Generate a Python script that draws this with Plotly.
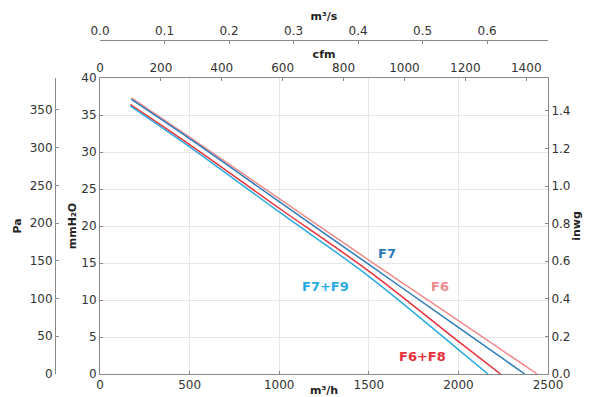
import plotly.graph_objects as go

# airflow (m3/h) vs static pressure (mmH2O)
f6_q = [175, 500, 1000, 1500, 2000, 2440]
f6_p = [37.3, 32.0, 23.7, 15.4, 7.2, 0]
f7_q = [175, 500, 1000, 1500, 2000, 2370]
f7_p = [37.1, 31.8, 23.3, 14.8, 6.3, 0]
f6f8_q = [170, 500, 1000, 1500, 2000, 2235]
f6f8_p = [36.4, 31.0, 22.4, 13.9, 4.4, 0]
f7f9_q = [170, 500, 1000, 1500, 2000, 2165]
f7f9_p = [36.2, 30.7, 21.9, 13.2, 3.3, 0]

C_F6 = '#f08a8a'
C_F7 = '#2b7bba'
C_F6F8 = '#e8303a'
C_F7F9 = '#29abe2'

Q_MAX = 2500
P_MAX = 40

fig = go.Figure()
fig.add_trace(go.Scatter(x=f6_q, y=f6_p, mode='lines', name='F6', line=dict(color=C_F6, width=1.5, shape='spline')))
fig.add_trace(go.Scatter(x=f7_q, y=f7_p, mode='lines', name='F7', line=dict(color=C_F7, width=1.5, shape='spline')))
fig.add_trace(go.Scatter(x=f6f8_q, y=f6f8_p, mode='lines', name='F6+F8', line=dict(color=C_F6F8, width=1.5, shape='spline')))
fig.add_trace(go.Scatter(x=f7f9_q, y=f7f9_p, mode='lines', name='F7+F9', line=dict(color=C_F7F9, width=1.5, shape='spline')))

# dummy traces so the extra axes get drawn
fig.add_trace(go.Scatter(x=[None], y=[None], xaxis='x2', yaxis='y', showlegend=False))
fig.add_trace(go.Scatter(x=[None], y=[None], xaxis='x3', yaxis='y', showlegend=False))
fig.add_trace(go.Scatter(x=[None], y=[None], xaxis='x', yaxis='y2', showlegend=False))
fig.add_trace(go.Scatter(x=[None], y=[None], xaxis='x', yaxis='y3', showlegend=False))

labels = [('F7', 1600, 16.3, C_F7), ('F7+F9', 1260, 11.8, C_F7F9),
          ('F6', 1900, 11.8, C_F6), ('F6+F8', 1800, 2.3, C_F6F8)]
for txt, lx, ly, col in labels:
    fig.add_annotation(x=lx, y=ly, text='<b>%s</b>' % txt, showarrow=False,
                       font=dict(color=col, size=13))

axcol = '#888888'
tickfont = dict(size=12, color='#333333')
titlefont = dict(size=11, color='#222222')
common = dict(showline=True, linecolor=axcol, linewidth=1, ticks='inside', ticklen=3,
              tickcolor=axcol, tickfont=tickfont, zeroline=False, automargin=False)
xdom = [45 / 493, 1]
ydom = [0, 296 / 334]

fig.update_layout(
    width=589, height=397,
    margin=dict(l=55, r=41, t=40, b=23),
    plot_bgcolor='white', paper_bgcolor='white',
    font=dict(family='DejaVu Sans', color='#333333'),
    showlegend=False,
    xaxis=dict(domain=xdom, range=[0, Q_MAX], dtick=500, mirror=True,
               showgrid=True, gridcolor='#e6e6e6',
               title=dict(text='<b>m³/h</b>', font=titlefont, standoff=0), **common),
    yaxis=dict(domain=ydom, range=[0, P_MAX], dtick=5, mirror=True,
               showgrid=True, gridcolor='#e6e6e6',
               title=dict(text='<b>mmH₂O</b>', font=titlefont, standoff=2), **common),
    xaxis2=dict(overlaying='x', side='top', anchor='y', range=[0, Q_MAX / 1.699], dtick=200,
                showgrid=False, title=dict(text='<b>cfm</b>', font=titlefont, standoff=0), **common),
    xaxis3=dict(overlaying='x', side='top', anchor='free', position=1, range=[0, Q_MAX / 3600],
                dtick=0.1, tickformat='.1f', showgrid=False,
                title=dict(text='<b>m³/s</b>', font=titlefont, standoff=0), **common),
    yaxis2=dict(overlaying='y', side='left', anchor='free', position=0, range=[0, P_MAX * 9.80665],
                dtick=50, showgrid=False,
                title=dict(text='<b>Pa</b>', font=titlefont, standoff=4), **common),
    yaxis3=dict(overlaying='y', side='right', anchor='x', range=[0, P_MAX / 25.4], dtick=0.2,
                tickformat='.1f', showgrid=False,
                title=dict(text='<b>inwg</b>', font=titlefont, standoff=0), **common),
)

fig.write_html("out.html", config={'displayModeBar': False},
               post_script="document.body.style.margin='0';")
